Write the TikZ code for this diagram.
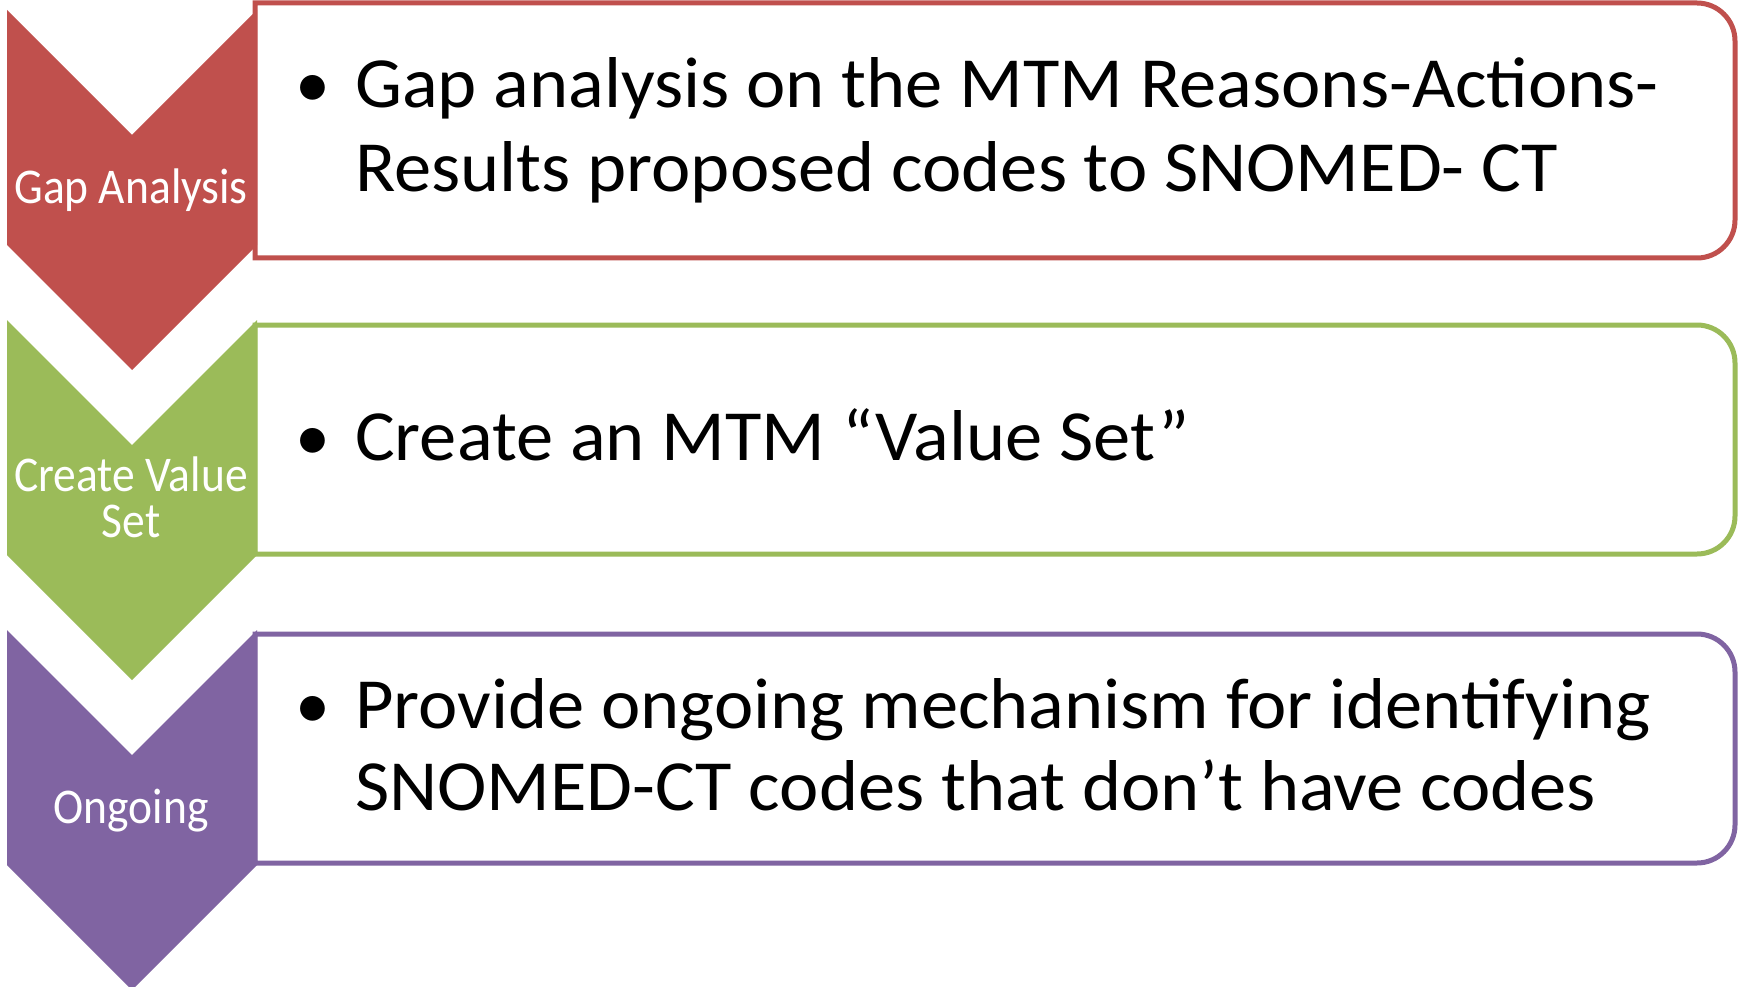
\documentclass[tikz,border=0pt]{standalone}
\usepackage{fontspec}
\setmainfont{Carlito}
\newfontfamily\chevfont[FakeStretch=0.91]{Carlito}
\newfontfamily\itemfont[FakeStretch=1.035]{Carlito}
\definecolor{cred}{HTML}{C0504D}
\definecolor{cgreen}{HTML}{9BBB59}
\definecolor{cpurple}{HTML}{8064A2}
\tikzset{
  boxline/.style={line width=5pt, fill=white},
  chevtext/.style={inner sep=0pt, text=white, font=\chevfont\fontsize{50}{45}\selectfont, anchor=base},
  itemtext/.style={inner sep=0pt, text=black, font=\itemfont\fontsize{72}{86}\selectfont, anchor=base west},
  bullettext/.style={inner sep=0pt, text=black, font=\fontsize{70}{84}\selectfont, anchor=base}
}
\newcommand{\stepbox}[3]{% color, top, bottom
  \draw[boxline, draw=#1] (255,#2) -- (1697,#2) arc[start angle=-90, end angle=0, radius=38] -- (1735,#3-38) arc[start angle=0, end angle=90, radius=38] -- (255,#3) -- cycle;
}
\newcommand{\chevshape}[2]{% color, top
  \fill[#1] (7,#2) -- (132,#2+125) -- (257,#2) -- (257,#2+235) -- (132,#2+360) -- (7,#2+235) -- cycle;
}
\begin{document}
\begin{tikzpicture}[x=1pt, y=-1pt]
\clip (0,0) rectangle (1738,987);
\fill[white] (0,0) rectangle (1738,987);
% boxes
\stepbox{cred}{3}{258}
\stepbox{cgreen}{325}{554}
\stepbox{cpurple}{634}{863}
% chevrons
\chevshape{cred}{10}
\chevshape{cgreen}{320}
\chevshape{cpurple}{630}
% chevron labels
\node[chevtext] (c1) at (131,204) {Gap Analysis};
\node[chevtext] (c2) at (131,537) {\setlength{\tabcolsep}{0pt}\begin{tabular}[b]{c}Create Value\\Set\end{tabular}};
\node[chevtext] (c3) at (131,823) {Ongoing};
% box texts
\node[bullettext] (b1) at (313,108) {•};
\node[itemtext] (t1a) at (355,108) {Gap analysis on the MTM Reasons-Actions-};
\node[itemtext] (t1b) at (355,192) {Results proposed codes to SNOMED- CT};
\node[bullettext] (b2) at (313,460) {•};
\node[itemtext] (t2) at (355,460) {Create an MTM “Value Set”};
\node[bullettext] (b3) at (313,728) {•};
\node[itemtext] (t3a) at (355,728) {Provide ongoing mechanism for identifying};
\node[itemtext] (t3b) at (355,810) {SNOMED-CT codes that don’t have codes};
\end{tikzpicture}
\end{document}
